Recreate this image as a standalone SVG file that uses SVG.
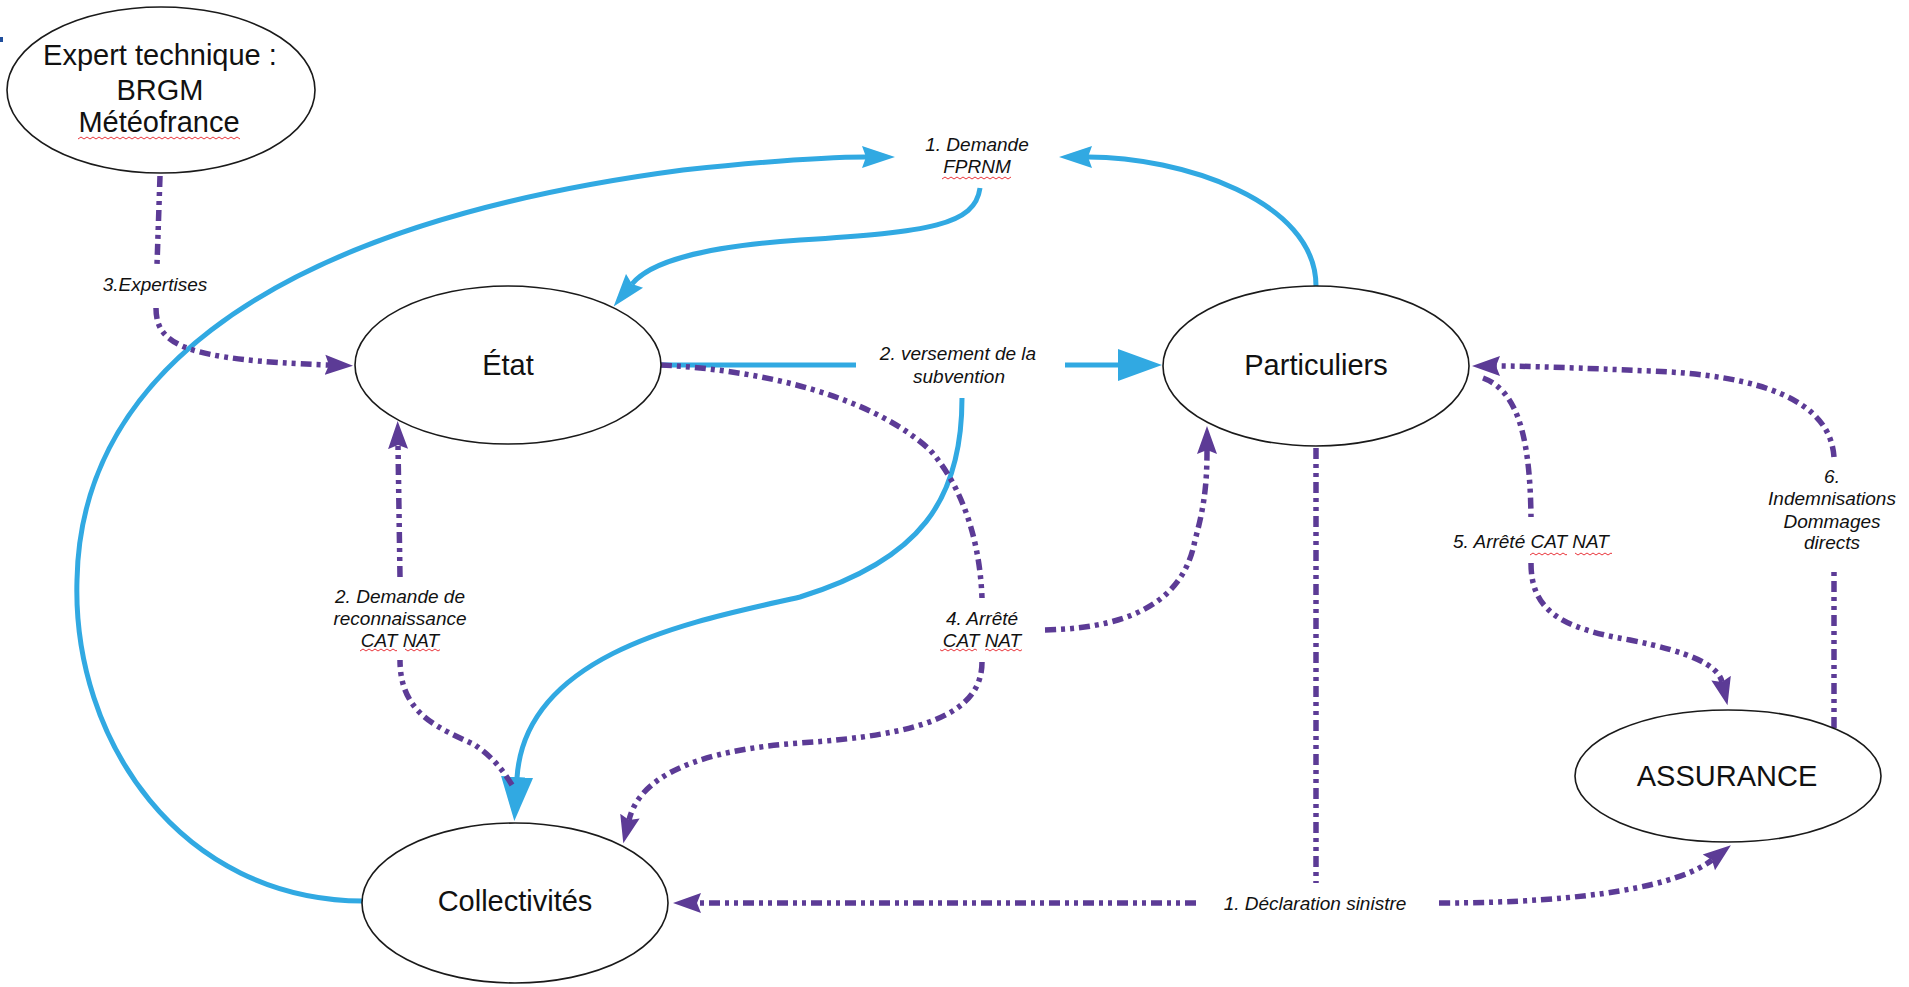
<svg xmlns="http://www.w3.org/2000/svg" width="1909" height="987" viewBox="0 0 1909 987">
  <style>
    .node { fill: #ffffff; stroke: #1a1a1a; stroke-width: 1.6; }
    .ntext { font-family: "Liberation Sans", Arial, sans-serif; font-size: 29px; fill: #111111; text-anchor: middle; }
    .ltext { font-family: "Liberation Sans", Arial, sans-serif; font-size: 19px; font-style: italic; fill: #111111; text-anchor: middle; }
    .blue { fill: none; stroke: #31a9e2; stroke-width: 5; }
    .purple { fill: none; stroke: #5c3b96; stroke-width: 5.5; stroke-dasharray: 11 5 4 5 4 5; }
    .wave { fill: url(#wave); }
  </style>
  <defs>
    <marker id="arrBlueS" markerUnits="userSpaceOnUse" viewBox="0 -12 34 24" markerWidth="34" markerHeight="24" refX="4" refY="0" orient="auto">
      <path d="M0,-11 L33,0 L0,11 L4,0 z" fill="#31a9e2"/>
    </marker>
    <marker id="arrBlueL" markerUnits="userSpaceOnUse" viewBox="0 -17 46 34" markerWidth="46" markerHeight="34" refX="1" refY="0" orient="auto">
      <path d="M0,-16 L44,0 L0,16 z" fill="#31a9e2"/>
    </marker>
    <marker id="arrPurple" markerUnits="userSpaceOnUse" viewBox="0 -11 30 22" markerWidth="30" markerHeight="22" refX="4" refY="0" orient="auto">
      <path d="M0,-10 L28,0 L0,10 L4,0 z" fill="#5c3b96"/>
    </marker>
    <pattern id="wave" patternUnits="userSpaceOnUse" width="6" height="4">
      <path d="M0,3 L3,1 L6,3" fill="none" stroke="#e8343a" stroke-width="1"/>
    </pattern>
  </defs>

  <rect x="0" y="0" width="1909" height="987" fill="#ffffff"/>
  <rect x="0" y="37" width="3" height="5" fill="#1f4e9c"/>

  <g id="connectors">
    <!-- blue -->
    <path class="blue" d="M363,901 C180,900 72,740 77,580 C80,400 230,230 683,170 C760,162 820,157 866,157" marker-end="url(#arrBlueS)"/>
    <path class="blue" d="M1316,286 C1316,200 1180,157 1088,157" marker-end="url(#arrBlueS)"/>
    <path class="blue" d="M980,188 C975,225 930,232 800,240 C700,247 650,262 632,284" marker-end="url(#arrBlueS)"/>
    <path class="blue" d="M661,365 L856,365 M1065,365 L1119,365" marker-end="url(#arrBlueL)"/>
    <path class="blue" d="M962,398 C962,500 920,560 800,597 C700,620 525,650 517,778" marker-end="url(#arrBlueL)"/>

    <!-- purple -->
    <path class="purple" d="M160,176 L157,265 M156,308 C156,345 185,360 329,365" marker-end="url(#arrPurple)"/>
    <path class="purple" d="M512,785 C498,762 485,752 475,745 C440,728 400,715 400,660 M400,577 L398,445" marker-end="url(#arrPurple)"/>
    <path class="purple" d="M661,365 C760,370 870,395 930,450 C965,490 980,545 982,598"/>
    <path class="purple" d="M1045,630 C1140,628 1185,595 1195,540 C1205,505 1207,480 1207,450" marker-end="url(#arrPurple)"/>
    <path class="purple" d="M982,662 C982,715 920,735 800,743 C700,750 640,775 629,820" marker-end="url(#arrPurple)"/>
    <path class="purple" d="M1834,728 L1834,568 M1834,457 C1830,400 1760,375 1650,371 C1580,368 1530,366 1496,366" marker-end="url(#arrPurple)"/>
    <path class="purple" d="M1483,378 C1515,390 1530,430 1531,517 M1531,563 C1531,610 1560,628 1630,640 C1690,652 1718,665 1722,682" marker-end="url(#arrPurple)"/>
    <path class="purple" d="M1316,448 L1316,883"/>
    <path class="purple" d="M1196,903 L697,903" marker-end="url(#arrPurple)"/>
    <path class="purple" d="M1439,903 C1590,903 1680,885 1712,860" marker-end="url(#arrPurple)"/>

    <!-- labels -->
    <text class="ltext" x="977" y="151">1. Demande</text>
    <text class="ltext" x="977" y="173">FPRNM</text>
    <rect class="wave" x="942" y="176" width="69" height="4"/>
    <text class="ltext" x="155" y="291">3.Expertises</text>
    <text class="ltext" x="958" y="360">2. versement de la</text>
    <text class="ltext" x="959" y="383">subvention</text>
    <text class="ltext" x="400" y="603">2. Demande de</text>
    <text class="ltext" x="400" y="625">reconnaissance</text>
    <text class="ltext" x="400" y="647">CAT NAT</text>
    <rect class="wave" x="360" y="648" width="37" height="4"/>
    <rect class="wave" x="405" y="648" width="35" height="4"/>
    <text class="ltext" x="982" y="625">4. Arrêté</text>
    <text class="ltext" x="982" y="647">CAT NAT</text>
    <rect class="wave" x="940" y="648" width="37" height="4"/>
    <rect class="wave" x="985" y="648" width="37" height="4"/>
    <text class="ltext" x="1531" y="548">5. Arrêté CAT NAT</text>
    <rect class="wave" x="1530" y="552" width="37" height="4"/>
    <rect class="wave" x="1575" y="552" width="37" height="4"/>
    <text class="ltext" x="1832" y="483">6.</text>
    <text class="ltext" x="1832" y="505">Indemnisations</text>
    <text class="ltext" x="1832" y="528">Dommages</text>
    <text class="ltext" x="1832" y="549">directs</text>
    <text class="ltext" x="1315" y="910">1. Déclaration sinistre</text>
  </g>

  <g id="node-expert">
    <ellipse class="node" cx="161" cy="90" rx="154" ry="83"/>
    <text class="ntext" x="160" y="65">Expert technique :</text>
    <text class="ntext" x="160" y="100">BRGM</text>
    <text class="ntext" x="159" y="132">Météofrance</text>
    <rect class="wave" x="78" y="136" width="162" height="4"/>
  </g>
  <g id="node-etat">
    <ellipse class="node" cx="508" cy="365" rx="153" ry="79"/>
    <text class="ntext" x="508" y="375">État</text>
  </g>
  <g id="node-particuliers">
    <ellipse class="node" cx="1316" cy="366" rx="153" ry="80"/>
    <text class="ntext" x="1316" y="375">Particuliers</text>
  </g>
  <g id="node-collectivites">
    <ellipse class="node" cx="515" cy="903" rx="153" ry="80"/>
    <text class="ntext" x="515" y="911">Collectivités</text>
  </g>
  <g id="node-assurance">
    <ellipse class="node" cx="1728" cy="776" rx="153" ry="66"/>
    <text class="ntext" x="1727" y="786">ASSURANCE</text>
  </g>
</svg>
